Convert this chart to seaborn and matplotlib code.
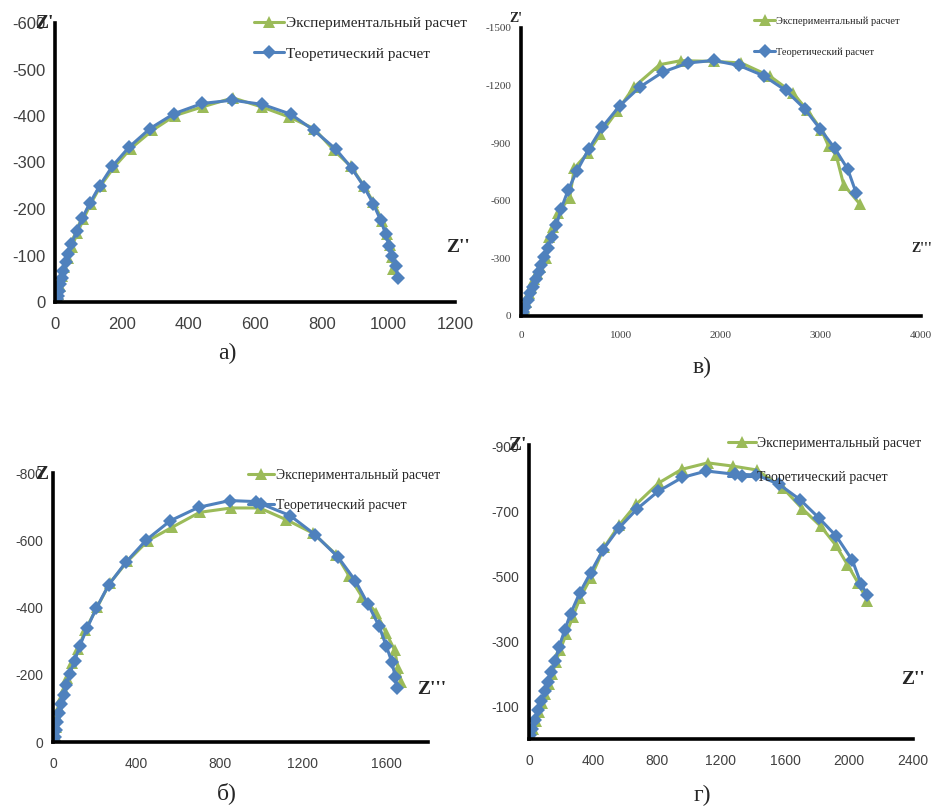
import numpy as np
import pandas as pd
import seaborn as sns
import matplotlib.pyplot as plt

sns.set_style('white')
plt.rcParams['font.family'] = ['Liberation Sans', 'DejaVu Sans']
plt.rcParams['axes.unicode_minus'] = False

GREEN = '#9bbb59'
BLUE = '#4f81bd'
LBL_EXP = 'Экспериментальный расчет'
LBL_TEO = 'Теоретический расчет'

# panel а)
a_exp_re = [1015, 1012, 1005, 997, 982, 955, 927, 887, 837, 777, 702, 622, 534, 444, 360, 292,
            227, 177, 137, 107, 85, 67, 50, 38, 28, 20, 14, 10, 7]
a_exp_im = [-70, -96, -122, -146, -175, -214, -250, -292, -326, -373, -398, -419, -439, -420, -401, -369,
            -330, -290, -250, -211, -178, -148, -118, -95, -75, -55, -35, -18, -4]
a_teo_re = [1029, 1022, 1012, 1002, 992, 977, 955, 927, 890, 842, 777, 707, 622, 532, 442, 357,
            285, 222, 172, 134, 105, 82, 65, 49, 40, 32, 25, 20, 15, 12, 9, 7]
a_teo_im = [-52, -78, -100, -121, -146, -176, -211, -248, -288, -329, -369, -404, -425, -434, -427, -405,
            -373, -333, -292, -250, -213, -181, -152, -124, -103, -85, -67, -52, -38, -24, -13, -6]

# panel в)
v_exp_re = [3387, 3227, 3150, 3077, 3003, 2860, 2720, 2493, 2203, 1927, 1600, 1387, 1127, 960, 793,
            667, 533, 487, 367, 320, 283, 253, 193, 160, 133, 103, 77, 53, 33, 20]
v_exp_im = [-584, -683, -840, -883, -970, -1074, -1161, -1248, -1318, -1326, -1330, -1309, -1192, -1066, -947,
            -848, -770, -617, -535, -461, -412, -304, -257, -222, -191, -153, -118, -75, -40, -5]
v_teo_re = [3350, 3267, 3137, 2993, 2837, 2647, 2427, 2180, 1927, 1670, 1420, 1187, 987, 813, 677,
            560, 470, 400, 353, 307, 270, 233, 203, 177, 147, 120, 93, 67, 43, 20, 7]
v_teo_im = [-643, -765, -874, -973, -1079, -1175, -1251, -1305, -1331, -1318, -1271, -1192, -1095, -984, -869,
            -756, -654, -556, -473, -410, -353, -309, -266, -231, -191, -153, -118, -83, -49, -23, -5]

# panel б)
b_exp_re = [1672, 1656, 1640, 1600, 1552, 1485, 1421, 1360, 1248, 1120, 992, 856, 704, 573, 456,
            357, 272, 213, 155, 122, 91, 67, 51, 38, 29, 19, 13, 8, 5]
b_exp_im = [-179, -219, -273, -323, -385, -430, -494, -557, -621, -661, -696, -696, -683, -639, -599,
            -537, -472, -402, -333, -278, -234, -189, -156, -129, -102, -75, -45, -20, 0]
b_teo_re = [1651, 1643, 1627, 1600, 1565, 1512, 1451, 1368, 1259, 1139, 973, 848, 699, 563, 448,
            349, 267, 208, 163, 128, 104, 80, 64, 51, 40, 29, 19, 13, 8, 5]
b_teo_im = [-162, -194, -237, -285, -345, -410, -480, -550, -616, -673, -715, -718, -698, -658, -601,
            -534, -467, -398, -338, -285, -242, -202, -169, -139, -112, -86, -60, -35, -15, -3]

# panel г)
g_exp_re = [2115, 2056, 1990, 1917, 1823, 1708, 1588, 1425, 1275, 1117, 954, 810, 671, 563, 470,
            385, 320, 273, 233, 195, 167, 145, 123, 102, 82, 62, 43, 27, 12]
g_exp_im = [-425, -481, -537, -597, -655, -709, -772, -828, -840, -850, -830, -788, -723, -658, -590,
            -495, -435, -375, -323, -275, -236, -200, -170, -140, -112, -84, -55, -30, -8]
g_teo_re = [2115, 2077, 2021, 1921, 1813, 1696, 1563, 1421, 1285, 1108, 958, 806, 677, 563, 463,
            385, 317, 260, 223, 188, 165, 140, 119, 98, 77, 56, 35, 19, 8]
g_teo_im = [-443, -476, -550, -624, -680, -736, -784, -813, -815, -825, -805, -762, -709, -650, -583,
            -512, -450, -386, -335, -284, -241, -205, -175, -147, -118, -88, -57, -32, -11]

fig = plt.figure(figsize=(9.37, 8.06), dpi=100)


def panel(rect, exp, teo, xlim, xticks, ylim, yticks, tick_font, tick_size, leg, ylab, xlab, tag):
    ax = fig.add_axes(rect)
    d1 = pd.DataFrame({'x': exp[0], 'y': exp[1]})
    d2 = pd.DataFrame({'x': teo[0], 'y': teo[1]})
    sns.lineplot(data=d1, x='x', y='y', sort=False, ax=ax, color=GREEN, lw=2.2,
                 marker='^', markersize=8, markeredgewidth=0, label=LBL_EXP)
    sns.lineplot(data=d2, x='x', y='y', sort=False, ax=ax, color=BLUE, lw=2.2,
                 marker='D', markersize=7, markeredgewidth=0, label=LBL_TEO)
    ax.set_xlim(*xlim)
    ax.set_ylim(*ylim)
    ax.set_xticks(xticks)
    ax.set_yticks(yticks)
    ax.set_xlabel('')
    ax.set_ylabel('')
    for s in ['top', 'right']:
        ax.spines[s].set_visible(False)
    for s in ['left', 'bottom']:
        ax.spines[s].set_linewidth(2.6)
        ax.spines[s].set_color('black')
    ax.tick_params(axis='x', direction='inout', length=6, width=2.6, color='black', pad=8)
    ax.tick_params(axis='y', direction='out', length=4, width=1, color='black', pad=3)
    for t in ax.get_xticklabels() + ax.get_yticklabels():
        t.set_fontfamily(tick_font)
        t.set_fontsize(tick_size)
        t.set_color('#404040')
    ax.legend(loc='upper left', bbox_to_anchor=(leg[0] / 937, 1 - leg[1] / 806),
              bbox_transform=fig.transFigure, frameon=False,
              labelspacing=leg[3], handlelength=leg[4], handletextpad=0.1, borderpad=0,
              prop={'family': 'Liberation Serif', 'size': leg[2]})
    fig.text(ylab[0] / 937, 1 - ylab[1] / 806, ylab[2], fontfamily='Liberation Serif',
             fontweight='bold', fontsize=ylab[3], ha='center', va='center')
    fig.text(xlab[0] / 937, 1 - xlab[1] / 806, xlab[2], fontfamily='Liberation Serif',
             fontweight='bold', fontsize=xlab[3], ha='center', va='center')
    fig.text(tag[0] / 937, 1 - tag[1] / 806, tag[2], fontfamily='Liberation Serif',
             fontsize=17, ha='center', va='center')
    return ax


panel([55 / 937, 1 - 302 / 806, 400 / 937, 279 / 806],
      (a_exp_re, a_exp_im), (a_teo_re, a_teo_im),
      (0, 1200), range(0, 1201, 200), (0, -600), range(0, -601, -100),
      'Liberation Sans', 12, (246, 9, 11, 1.1, 2.0),
      (44, 23, "Z'", 14), (458, 248, "Z''", 14), (227, 353, 'а)'))

panel([521 / 937, 1 - 316 / 806, 400 / 937, 288 / 806],
      (v_exp_re, v_exp_im), (v_teo_re, v_teo_im),
      (0, 4000), range(0, 4001, 1000), (0, -1500), range(0, -1501, -300),
      'Liberation Serif', 8, (749, 11, 7.5, 2.1, 2.0),
      (516, 18, "Z'", 10), (922, 248, "Z'''", 10), (702, 367, 'в)'))

panel([53 / 937, 1 - 742 / 806, 375 / 937, 269 / 806],
      (b_exp_re, b_exp_im), (b_teo_re, b_teo_im),
      (0, 1800), range(0, 1601, 400), (0, -800), range(0, -801, -200),
      'Liberation Sans', 10, (241, 462, 10, 1.25, 1.9),
      (42, 475, "Z", 14), (432, 690, "Z'''", 14), (227, 793, 'б)'))

panel([529 / 937, 1 - 739 / 806, 384 / 937, 294 / 806],
      (g_exp_re, g_exp_im), (g_teo_re, g_teo_im),
      (0, 2400), range(0, 2401, 400), (0, -905), range(-100, -901, -200),
      'Liberation Sans', 10, (721, 430, 10, 1.5, 2.0),
      (517, 445, "Z'", 14), (913, 680, "Z''", 14), (702, 795, 'г)'))

fig.savefig('out.png', dpi=100)
